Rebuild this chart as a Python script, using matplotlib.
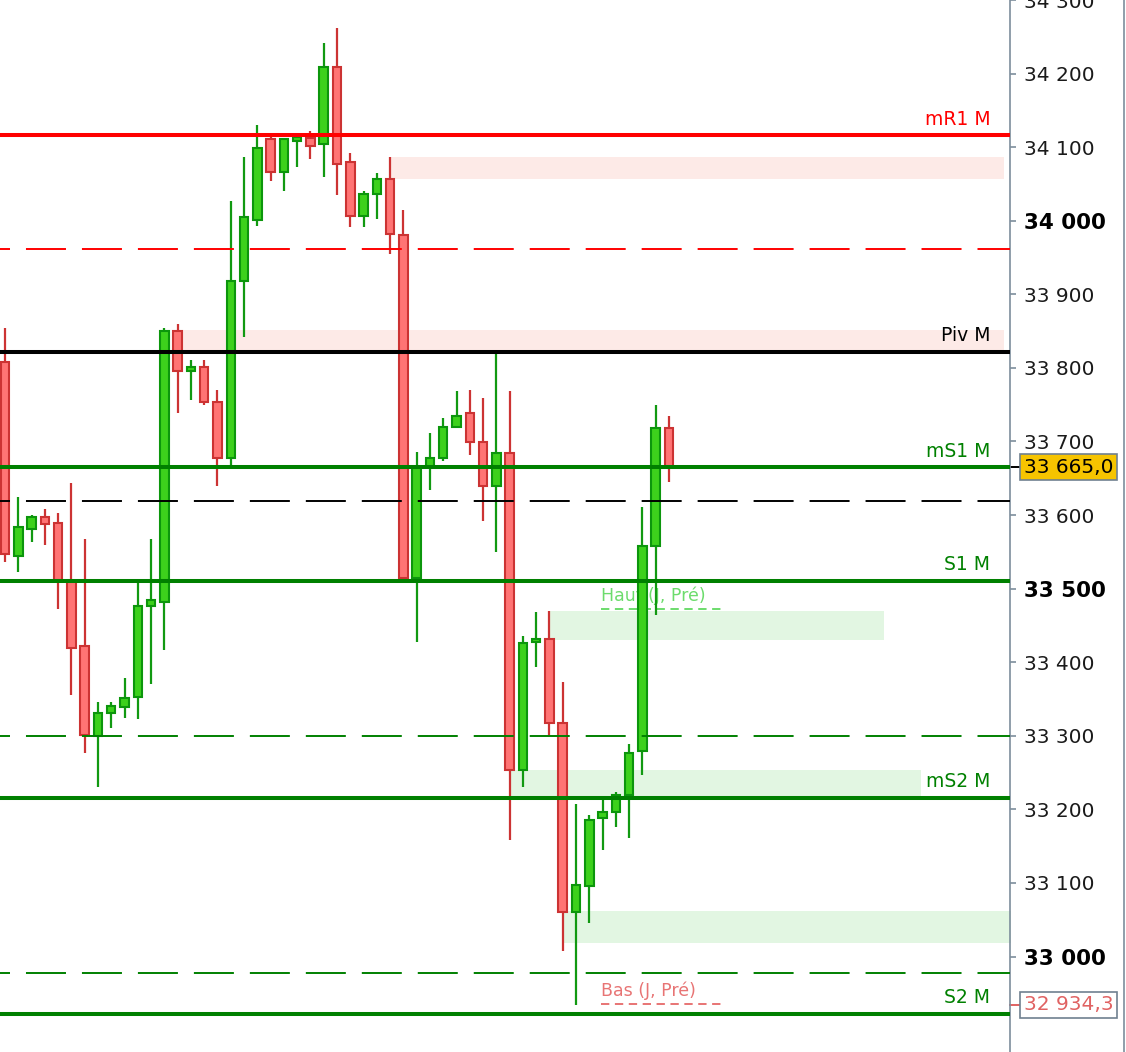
import numpy as np
import matplotlib as mpl
mpl.use('Agg')
import matplotlib.pyplot as plt
import matplotlib.transforms as mtransforms
from matplotlib.lines import Line2D

mpl.rcParams['lines.scale_dashes'] = False
mpl.rcParams['font.family'] = ['DejaVu Sans']

# candle data
opens  = [33808, 33545, 33581, 33597, 33589, 33511, 33422, 33300, 33331, 33339,
          33353, 33477, 33482, 33850, 33796, 33801, 33753, 33677, 33918, 34001,
          34111, 34066, 34109, 34112, 34104, 34209, 34080, 34007, 34036, 34057,
          33980, 33515, 33666, 33677, 33720, 33739, 33699, 33639, 33685, 33253,
          33428, 33431, 33318, 33061, 33096, 33188, 33196, 33220, 33280, 33558,
          33718]
highs  = [33854, 33624, 33600, 33608, 33603, 33643, 33568, 33346, 33346, 33378,
          33511, 33568, 33854, 33859, 33811, 33811, 33770, 34027, 34086, 34130,
          34114, 34111, 34115, 34122, 34241, 34262, 34092, 34041, 34065, 34086,
          34014, 33686, 33711, 33732, 33768, 33770, 33759, 33819, 33768, 33435,
          33468, 33470, 33373, 33208, 33192, 33215, 33224, 33289, 33611, 33749,
          33735]
lows   = [33536, 33523, 33564, 33559, 33472, 33355, 33276, 33231, 33311, 33324,
          33323, 33370, 33416, 33739, 33757, 33749, 33639, 33666, 33842, 33993,
          34054, 34041, 34073, 34084, 34059, 34035, 33992, 33992, 34003, 33955,
          33513, 33427, 33634, 33674, 33718, 33681, 33592, 33550, 33158, 33231,
          33393, 33301, 33007, 32934.3, 33046, 33145, 33176, 33161, 33247, 33464,
          33645]
closes = [33547, 33584, 33597, 33588, 33512, 33420, 33301, 33331, 33341, 33351,
          33477, 33485, 33850, 33796, 33801, 33753, 33677, 33918, 34005, 34099,
          34066, 34111, 34114, 34101, 34209, 34077, 34007, 34036, 34057, 33982,
          33515, 33664, 33677, 33720, 33734, 33699, 33639, 33685, 33253, 33426,
          33431, 33318, 33061, 33097, 33186, 33196, 33220, 33277, 33558, 33718,
          33665]

# pivot levels
level_names  = ['mR1 M', 'Piv M', 'mS1 M', 'S1 M', 'mS2 M', 'S2 M']
level_values = [34116, 33822, 33665, 33511, 33216, 32922]
level_colors = ['#ff0000', '#000000', '#008000', '#008000', '#008000', '#008000']
dashed_values = [33962, 33619, 33300, 32978]
dashed_colors = ['#ff0000', '#000000', '#008000', '#008000']

# zones: start candle, end x, low, high
zone_start = [29, 13, 41, 38, 42]
zone_end   = [75.2, 75.2, 66.2, 69.0, 80]
zone_low   = [34057, 33824, 33430, 33218, 33019]
zone_high  = [34086, 33851, 33470, 33254, 33062]
zone_colors = ['#fdeae7', '#fdeae7', '#e2f6e2', '#e2f6e2', '#e2f6e2']

tick_values = list(range(33000, 34400, 100))
bold_ticks = [33000, 33500, 34000]
last_price = 33665.0
low_price = 32934.3

W, H = 1126, 1052
fig = plt.figure(figsize=(W / 100, H / 100), dpi=100)
ax = fig.add_axes([0, 0, 1010 / W, 1])

n = len(opens)
x = np.arange(n)
ax.set_xlim(-0.377, 75.68)
ax.set_ylim(32870.3, 34291.9)

for s, e, lo, hi, col in zip(zone_start, zone_end, zone_low, zone_high, zone_colors):
    ax.fill_between([s, e], lo, hi, color=col, lw=0, zorder=1)

o = np.array(opens); c = np.array(closes)
up = c >= o
wick_col = np.where(up, '#119911', '#cc3333')
ax.vlines(x, lows, highs, colors=wick_col, lw=1.6, zorder=3)
ax.bar(x[up], (c - o)[up], bottom=o[up], width=0.64, color='#3dd11c',
       edgecolor='#0c960c', lw=1.5, zorder=4)
ax.bar(x[~up], (o - c)[~up], bottom=c[~up], width=0.64, color='#ff7474',
       edgecolor='#cc3333', lw=1.5, zorder=4)

dash = (21.6, (28.8, 11.5))
for v, col in zip(dashed_values, dashed_colors):
    ax.axhline(v, color=col, lw=1.4, linestyle=(dash[0], dash[1]), zorder=5)
for name, v, col in zip(level_names, level_values, level_colors):
    ax.axhline(v, color=col, lw=2.9, zorder=5)
    ax.text(74.2, v + 9, name, color=col, fontsize=13.5, ha='right', va='bottom', zorder=6)

# previous day high / low labels
ax.text(44.9, 33491, 'Haut (J, Pré)', color='#6cdc6c', fontsize=12.5, ha='left',
        va='center', zorder=2)
ax.plot([44.9, 53.9], [33472, 33472], color='#6cdc6c', lw=1.4, ls=(0, (6, 4)), zorder=2)
ax.text(44.9, 32954, 'Bas (J, Pré)', color='#e87474', fontsize=12.5, ha='left',
        va='center', zorder=6)
ax.plot([44.9, 53.9], [32936, 32936], color='#e87474', lw=1.4, ls=(0, (6, 4)), zorder=6)

# right price axis
for side in ['top', 'left', 'bottom']:
    ax.spines[side].set_visible(False)
ax.spines['right'].set_color('#7d8d9c')
ax.spines['right'].set_linewidth(1.2)
ax.set_xticks([])
ax.yaxis.tick_right()
ax.set_yticks(tick_values)
ax.set_yticklabels(['{:,}'.format(v).replace(',', ' ') for v in tick_values])
ax.tick_params(axis='y', length=4, width=1.2, color='#7d8d9c', pad=6,
               labelsize=14.5, labelcolor='#1a1a1a')
for lab, v in zip(ax.get_yticklabels(), tick_values):
    if v in bold_ticks:
        lab.set_fontweight('bold')
        lab.set_fontsize(15.5)
        lab.set_color('#000000')

trans = mtransforms.blended_transform_factory(fig.transFigure, ax.transData)
ax.text(1024 / W, last_price, '{:,.1f}'.format(last_price).replace(',', ' ').replace('.', ','),
        transform=trans, fontsize=14.5, ha='left', va='center', color='#000000', zorder=10,
        bbox=dict(boxstyle='square,pad=0.18', fc='#f6c400', ec='#6f8090', lw=1.2), clip_on=False)
ax.text(1024 / W, low_price, '{:,.1f}'.format(low_price).replace(',', ' ').replace('.', ','),
        transform=trans, fontsize=14.5, ha='left', va='center', color='#e06262', zorder=10,
        bbox=dict(boxstyle='square,pad=0.18', fc='#ffffff', ec='#6f8090', lw=1.2), clip_on=False)
ax.plot([1010 / W, 1020 / W], [last_price, last_price], transform=trans, color='#000000',
        lw=1.4, clip_on=False)
ax.plot([1010 / W, 1020 / W], [low_price, low_price], transform=trans, color='#e06262',
        lw=1.4, clip_on=False)

fig.add_artist(Line2D([1124 / W, 1124 / W], [0, 1], transform=fig.transFigure,
                      color='#7d8d9c', lw=1.2))

fig.savefig('out.png', dpi=100)
